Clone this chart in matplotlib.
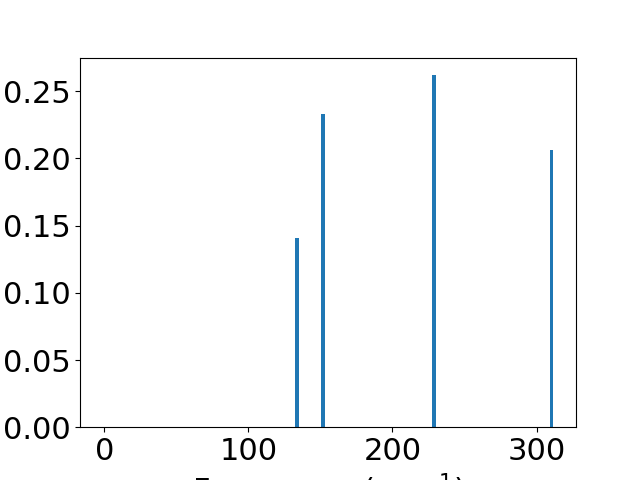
import matplotlib
matplotlib.use('Agg')
import matplotlib.pyplot as plt

# vibrational modes: frequency (cm^-1) and intensity
freqs = [0.0, 133.8, 151.9, 228.8, 310.5]
intensities = [0.0, 0.141, 0.233, 0.262, 0.206]

plt.rcParams['font.size'] = 22

fig, ax = plt.subplots(figsize=(6.4, 4.8), dpi=100)
ax.bar(freqs, intensities, width=2.4)
ax.set_xlabel('Frequency (cm$^{-1}$)')

plt.savefig('out.png', dpi=100)
